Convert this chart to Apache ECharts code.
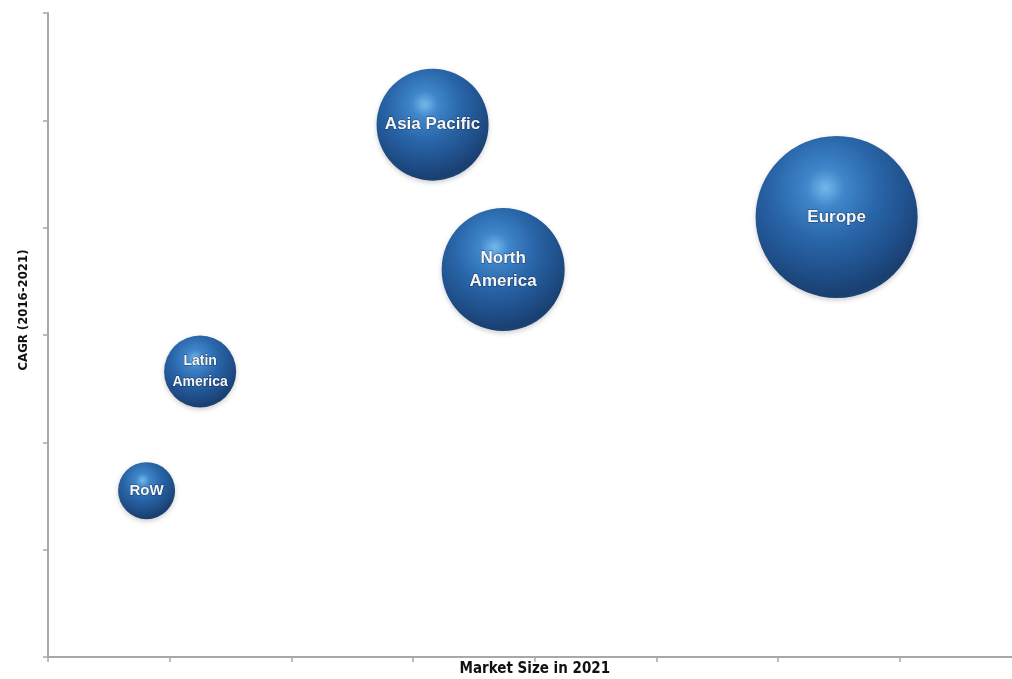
<!DOCTYPE html>
<html>
<head>
<meta charset="utf-8">
<script src="https://cdn.jsdelivr.net/npm/echarts@6/dist/echarts.min.js"></script>
<style>
html,body{margin:0;padding:0;background:#fff;}
#chart{width:1012px;height:679px;}
</style>
</head>
<body>
<div id="chart"></div>
<script>
// Data (arbitrary axis units; no tick labels shown)
const regions = ["Asia Pacific", "North\nAmerica", "Europe", "Latin\nAmerica", "RoW"];
const marketSize = [3.16, 3.74, 6.48, 1.25, 0.81];   // x position
const cagr = [4.96, 3.61, 4.10, 2.66, 1.55];         // y position
const bubbleSize = [112, 123, 162, 72, 57];          // bubble diameter

const chart = echarts.init(document.getElementById('chart'));

const ballColor = new echarts.graphic.RadialGradient(0.43, 0.32, 0.85, [
  {offset: 0, color: '#74b8ea'},
  {offset: 0.14, color: '#3f86ca'},
  {offset: 0.38, color: '#2966a9'},
  {offset: 0.62, color: '#1f4f8a'},
  {offset: 0.78, color: '#1a3f70'},
  {offset: 0.9, color: '#21528c'}
]);

// smaller label text on the two small bubbles
const smallLabel = {"Latin\nAmerica": {fontSize: 14, lineHeight: 21}, "RoW": {fontSize: 15}};

const data = regions.map((r, i) => ({
  name: r,
  value: [marketSize[i], cagr[i], bubbleSize[i]],
  label: smallLabel[r] || {}
}));

const nameFont = '"DejaVu Sans Condensed", "Liberation Sans Narrow", "Arial Narrow", "Liberation Sans", sans-serif';

chart.setOption({
  animation: false,
  backgroundColor: '#ffffff',
  grid: {left: 48, top: 13, width: 973.6, height: 644, outerBoundsMode: 'none', containLabel: false},
  xAxis: {
    type: 'value', min: 0, max: 8, interval: 1,
    name: 'Market Size in 2021',
    nameLocation: 'middle', nameGap: 5,
    nameTextStyle: {fontFamily: nameFont, fontWeight: 'bold', fontSize: 15, color: '#111'},
    axisLine: {lineStyle: {color: '#a8a8a8', width: 2}},
    axisTick: {show: true, length: 5, lineStyle: {color: '#a8a8a8', width: 1.5}},
    axisLabel: {show: false},
    splitLine: {show: false}
  },
  yAxis: {
    type: 'value', min: 0, max: 6, interval: 1,
    name: 'CAGR (2016-2021)',
    nameLocation: 'middle', nameGap: 18, nameRotate: 90,
    nameTextStyle: {fontFamily: nameFont, fontWeight: 'bold', fontSize: 13, color: '#111', padding: [0, 0, 0, 50]},
    axisLine: {show: true, lineStyle: {color: '#a8a8a8', width: 2}},
    axisTick: {show: true, length: 5, lineStyle: {color: '#a8a8a8', width: 1.5}},
    axisLabel: {show: false},
    splitLine: {show: false}
  },
  series: [{
    type: 'scatter',
    data: data,
    symbolSize: v => v[2],
    itemStyle: {
      color: ballColor,
      opacity: 1,
      shadowBlur: 5,
      shadowColor: 'rgba(0,0,0,0.2)',
      shadowOffsetY: 2
    },
    label: {
      show: true,
      position: 'inside',
      formatter: p => p.name,
      color: '#f6f6f6',
      fontFamily: 'Liberation Sans, Arial, sans-serif',
      fontWeight: 'bold',
      fontSize: 17,
      lineHeight: 23,
      textBorderColor: 'rgba(10,30,60,0.6)',
      textBorderWidth: 1
    }
  }]
});
</script>
</body>
</html>
